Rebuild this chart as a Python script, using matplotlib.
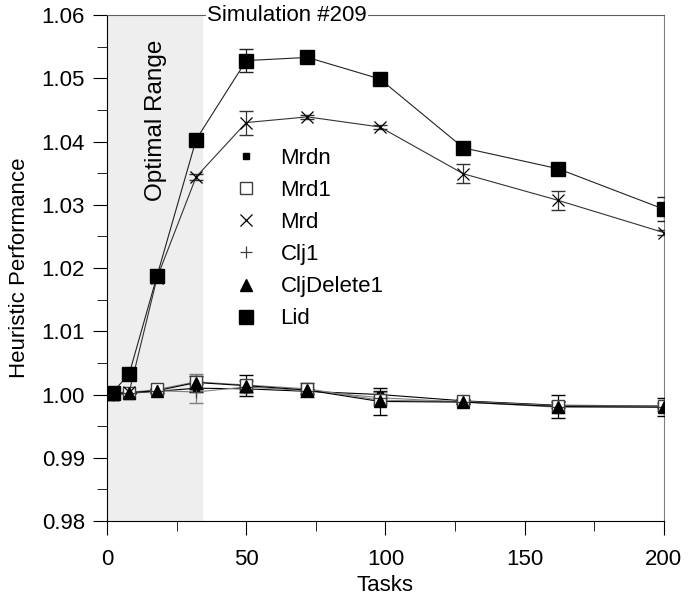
import numpy as np
import matplotlib
matplotlib.use("Agg")
import matplotlib.pyplot as plt
from matplotlib.ticker import MultipleLocator

plt.rcParams['font.family'] = ['Liberation Sans', 'DejaVu Sans']

tasks = [2, 8, 18, 32, 50, 72, 98, 128, 162, 200]

mrdn = [1.0000, 1.0002, 1.0005, 1.0010, 1.0009, 1.0005, 1.0000, 0.9990, 0.9983, 0.9982]
mrd1 = [1.0001, 1.0003, 1.0008, 1.0020, 1.0015, 1.0009, 0.9991, 0.9989, 0.9982, 0.9982]
mrd = [1.0001, 1.0004, 1.0185, 1.0344, 1.0430, 1.0439, 1.0423, 1.0349, 1.0307, 1.0256]
clj1 = [1.0000, 1.0002, 1.0006, 1.0004, 1.0012, 1.0006, 0.9995, 0.9988, 0.9980, 0.9980]
cljdel1 = [1.0001, 1.0003, 1.0006, 1.0019, 1.0014, 1.0007, 0.9989, 0.9988, 0.9981, 0.9980]
lid = [1.0003, 1.0033, 1.0188, 1.0403, 1.0528, 1.0533, 1.0499, 1.0390, 1.0357, 1.0293]

mrdn_err = [0, 0, 0, 0.0006, 0.0005, 0.0004, 0.0005, 0.0003, 0.0005, 0.0004]
mrd1_err = [0, 0, 0.0003, 0.0012, 0.0008, 0.0006, 0.0007, 0.0003, 0.0008, 0.0005]
mrd_err = [0, 0, 0, 0.0005, 0.0019, 0.0003, 0.0003, 0.0015, 0.0015, 0.0004]
clj1_err = [0, 0, 0.0003, 0.0017, 0.0010, 0.0006, 0.0009, 0.0003, 0.0009, 0.0006]
cljdel1_err = [0, 0, 0.0003, 0.0010, 0.0017, 0.0011, 0.0021, 0.0003, 0.0018, 0.0014]
lid_err = [0, 0, 0, 0.0003, 0.0018, 0.0003, 0.0003, 0.0003, 0.0003, 0.0019]

fig = plt.figure(figsize=(6.88, 6.04), dpi=100)
ax = fig.add_axes([0.1555, 0.1374, 0.8095, 0.8377])

ax.axvspan(0, 34, color='#eeeeee', zorder=0)
ax.text(17.5, 1.0434, 'Optimal Range', rotation=90, ha='center', va='center', fontsize=17.5)

# lines + error bars
series = [
    (mrdn, mrdn_err, 'black'),
    (mrd1, mrd1_err, '#808080'),
    (clj1, clj1_err, '#808080'),
    (cljdel1, cljdel1_err, 'black'),
    (mrd, mrd_err, '#333333'),
    (lid, lid_err, '#222222'),
]
for vals, err, c in series:
    ax.plot(tasks, vals, color=c, lw=0.8, zorder=2)
    ax.errorbar(tasks, vals, yerr=err, fmt='none', ecolor=c, elinewidth=0.9, capsize=5, zorder=3)

# markers
ax.plot(tasks, mrdn, 's', color='black', ms=5, ls='none', label='Mrdn', zorder=4)
ax.plot(tasks, mrd1, 's', mfc='white', mec='#404040', ms=9, ls='none', label='Mrd1', zorder=4)
ax.plot(tasks, mrd, 'x', color='black', ms=9, mew=0.9, ls='none', label='Mrd', zorder=4)
ax.plot(tasks, clj1, '+', color='#404040', ms=9, mew=0.9, ls='none', label='Clj1', zorder=4)
ax.plot(tasks, cljdel1, '^', color='black', ms=9, ls='none', label='CljDelete1', zorder=5)
ax.plot(tasks, lid, 's', color='black', ms=10, ls='none', label='Lid', zorder=5)

ax.set_xlim(0, 200)
ax.set_ylim(0.98, 1.06)
ax.xaxis.set_major_locator(MultipleLocator(50))
ax.xaxis.set_minor_locator(MultipleLocator(25))
ax.yaxis.set_major_locator(MultipleLocator(0.01))
ax.yaxis.set_minor_locator(MultipleLocator(0.005))
ax.yaxis.set_major_formatter(matplotlib.ticker.FormatStrFormatter('%.2f'))
ax.tick_params(axis='both', which='major', direction='out', length=10, labelsize=16, pad=6)
ax.tick_params(axis='both', which='minor', direction='out', length=7)
ax.tick_params(axis='x', which='major', pad=10)

ax.spines['right'].set_color('#808080')
ax.spines['top'].set_color('#606060')

ax.set_xlabel('Tasks', fontsize=16, labelpad=4)
ax.set_ylabel('Heuristic Performance', fontsize=16, labelpad=8)

ax.text(36, 1.06, 'Simulation #209', fontsize=16, ha='left', va='center',
        bbox=dict(facecolor='white', edgecolor='none', pad=1), zorder=6)

ax.legend(loc='upper left', bbox_to_anchor=(0.21, 0.755), frameon=False, fontsize=16,
          handlelength=1.2, handletextpad=0.95, labelspacing=0.5, borderaxespad=0)

fig.savefig('out.png', dpi=100)
